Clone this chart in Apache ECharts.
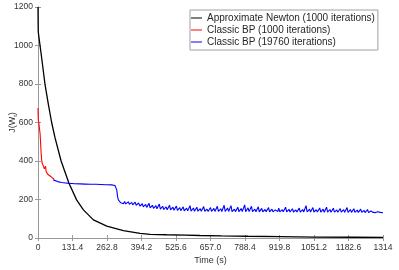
<!DOCTYPE html>
<html><head><meta charset="utf-8">
<script src="https://cdn.jsdelivr.net/npm/echarts@6/dist/echarts.min.js"></script>
<style>html,body{margin:0;padding:0;background:#fff}#c{width:399px;height:270px}</style>
</head><body><div id="c"></div>
<script>
var seriesNames = ['Approximate Newton (1000 iterations)', 'Classic BP (1000 iterations)', 'Classic BP (19760 iterations)'];
var xTickLabels = ['0','131.4','262.8','394.2','525.6','657.0','788.4','919.8','1051.2','1182.6','1314'];
var yTickLabels = ['0','200','400','600','800','1000','1200'];

var newtonT = [0,0.5,1,14,27,40,52,65,88,118,147,173,211,262,325,389,427,490,560,617,700,800,922,1050,1200,1314];
var newtonV = [1200,1120,1070,935,795,690,600,520,400,284,198,146,94,62,38,24,19,17,15,13,11,9,7,5,4,3];

var bp1T = [0,1,3,5,8,10,12,14,16,18,21,24,27,29,31,33,38,46,55,62];
var bp1V = [675,614,600,596,540,492,440,405,388,380,372,360,362,372,345,336,330,322,312,305];

var bp2T = [58,65,75,90,105,118,130,140,142,160,180,200,220,240,255,262,264,280,293,296,300,303,306,310,315,
320,325,330,334,340,344,348,353,357,361,366,370,374,379,383,388,392,397,401,406,410,414,419,423,427,432,436,440,445,449,
453,458,462,466,471,475,479,484,488,492,497,501,505,510,514,518,523,527,531,536,540,544,549,553,557,562,566,570,575,579,
583,588,592,596,601,605,609,614,618,622,627,631,635,640,644,648,653,657,661,666,670,674,679,683,687,692,696,700,705,709,
713,718,722,726,731,735,739,744,748,752,757,761,765,770,774,778,783,787,791,796,800,804,809,813,817,822,826,830,835,839,
843,848,852,856,861,865,869,874,878,882,887,891,895,900,904,908,913,917,921,926,930,934,939,943,947,952,956,960,965,969,
973,978,982,986,991,995,999,1004,1008,1012,1017,1021,1025,1030,1034,1038,1043,1047,1051,1056,1060,1064,1069,1073,1077,
1082,1086,1090,1095,1099,1103,1108,1112,1116,1121,1125,1129,1134,1138,1142,1147,1151,1155,1160,1164,1168,1173,1177,1181,
1186,1190,1194,1199,1203,1207,1212,1216,1220,1225,1229,1233,1238,1242,1246,1251,1255,1259,1264,1268,1272,1277,1281,1285,
1290,1294,1298,1303,1307,1314];
var bp2V = [302,298,293,288,286,284,283,282,286,281,280,279,279,278,277,282,277,276,273,272,250,215,198,190,183,
180,178,190,177,176,188,175,174,185,172,171,186,170,168,182,166,165,178,162,161,175,159,158,180,157,155,170,154,153,168,
152,151,176,150,149,165,148,147,162,147,146,170,146,145,160,144,144,166,143,143,158,142,142,162,141,141,155,141,140,168,
140,140,156,139,140,160,139,140,152,139,139,163,139,139,150,138,140,158,138,139,154,138,139,165,138,139,152,138,140,170,
138,139,156,138,139,168,137,139,150,137,139,160,137,139,153,137,139,172,137,139,157,137,138,165,137,138,150,136,138,162,
136,138,154,136,138,148,136,138,158,136,138,150,136,137,146,136,137,155,136,137,147,136,137,160,136,137,149,135,137,152,
135,137,146,135,137,155,135,137,148,135,137,168,135,137,150,135,137,158,135,136,147,135,136,156,134,
136,150,134,136,160,134,136,148,134,136,155,134,136,146,134,136,153,134,135,147,134,135,158,133,
135,148,133,135,152,133,135,145,133,134,150,133,134,143,132,134,148,132,133,140,132,133,138,132,
133,136,131,133,134,131];

function pairs(t, v) { var out = []; for (var i = 0; i < t.length && i < v.length; i++) out.push([t[i], v[i]]); return out; }

var font = 'Liberation Sans, Arial, Helvetica, sans-serif';
var axisColor = '#999999';
var labelColor = '#333333';
var lineColors = ['#000000', '#ff0000', '#0000ff'];

var chart = echarts.init(document.getElementById('c'), null, {renderer: 'canvas'});
chart.setOption({
  animation: false,
  backgroundColor: '#ffffff',
  textStyle: {fontFamily: font},
  grid: {left: 38, right: 16, top: 7, bottom: 32, containLabel: false, outerBoundsMode: 'none'},
  legend: {
    orient: 'vertical', left: 190, top: 10,
    data: seriesNames.map(function (n) { return {name: n, icon: 'rect'}; }),
    itemWidth: 11, itemHeight: 1, itemGap: 2,
    padding: [3, 3, 3, 1],
    backgroundColor: '#ffffff', borderColor: '#a0a0a0', borderWidth: 1, borderRadius: 0,
    textStyle: {fontFamily: font, fontSize: 10, color: '#262626', lineHeight: 10}
  },
  xAxis: [{
    type: 'value', min: 0, max: 1314, interval: 131.4, position: 'bottom',
    name: 'Time (s)', nameLocation: 'middle', nameGap: 18, nameMoveOverlap: false,
    nameTextStyle: {fontFamily: font, fontSize: 9, color: labelColor},
    axisLine: {show: true, lineStyle: {color: axisColor, width: 1}},
    axisTick: {show: true, inside: true, length: 3, lineStyle: {color: axisColor}},
    axisLabel: {fontFamily: font, fontSize: 8.5, color: labelColor, margin: 5,
      formatter: function (v) { return xTickLabels[Math.round(v / 131.4)]; }},
    splitLine: {show: false}
  }, {
    type: 'value', min: 0, max: 1314, interval: 131.4, position: 'top',
    axisLine: {show: true, lineStyle: {color: axisColor, width: 1}},
    axisTick: {show: true, inside: true, length: 3, lineStyle: {color: axisColor}},
    axisLabel: {show: false}, splitLine: {show: false}
  }],
  yAxis: [{
    type: 'value', min: 0, max: 1200, interval: 200, position: 'left',
    name: '{a|J(W}{b|t}{a|)}', nameLocation: 'middle', nameGap: 20, nameRotate: 90, nameMoveOverlap: false,
    nameTextStyle: {rich: {
      a: {fontFamily: font, fontSize: 9, color: labelColor},
      b: {fontFamily: font, fontSize: 6, color: labelColor, verticalAlign: 'bottom', padding: [4, 0, 0, 0]}
    }},
    axisLine: {show: true, lineStyle: {color: axisColor, width: 1}},
    axisTick: {show: true, inside: true, length: 3, lineStyle: {color: axisColor}},
    axisLabel: {fontFamily: font, fontSize: 8.5, color: labelColor, margin: 5,
      formatter: function (v) { return yTickLabels[Math.round(v / 200)]; }},
    splitLine: {show: false}
  }, {
    type: 'value', min: 0, max: 1200, interval: 200, position: 'right',
    axisLine: {show: true, lineStyle: {color: axisColor, width: 1}},
    axisTick: {show: true, inside: true, length: 3, lineStyle: {color: axisColor}},
    axisLabel: {show: false}, splitLine: {show: false}
  }],
  series: [{
    name: seriesNames[0], type: 'line', data: pairs(newtonT, newtonV),
    symbol: 'none', lineStyle: {color: lineColors[0], width: 1.3}, itemStyle: {color: lineColors[0]}, z: 2
  }, {
    name: seriesNames[1], type: 'line', data: pairs(bp1T, bp1V),
    symbol: 'none', lineStyle: {color: lineColors[1], width: 1.1}, itemStyle: {color: lineColors[1]}, z: 3
  }, {
    name: seriesNames[2], type: 'line', data: pairs(bp2T, bp2V),
    symbol: 'none', lineStyle: {color: lineColors[2], width: 1.1}, itemStyle: {color: lineColors[2]}, z: 4
  }]
});
</script></body></html>
